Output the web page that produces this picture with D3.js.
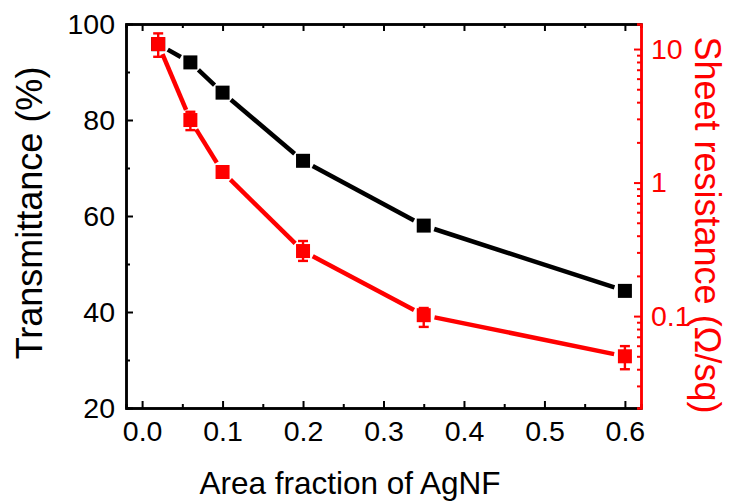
<!DOCTYPE html>
<html>
<head>
<meta charset="utf-8">
<script src="https://cdn.jsdelivr.net/npm/d3@7"></script>
<style>
  body { margin: 0; background: #fff; }
  text { font-family: Arial, "Liberation Sans", sans-serif; }
</style>
</head>
<body>
<svg id="chart"></svg>
<script>
// data
const fraction = [0.02, 0.06, 0.1, 0.2, 0.35, 0.6];
const transmittance = [95.8, 92.0, 85.7, 71.5, 58.0, 44.4];
const resistance = [10.9, 2.94, 1.2, 0.307, 0.1016, 0.050];
const resLow = [8.75, 2.47, 1.1, 0.259, 0.083, 0.040];
const resHigh = [13.1, 3.39, 1.31, 0.365, 0.115, 0.0596];
const xTicks = [0, 0.1, 0.2, 0.3, 0.4, 0.5, 0.6];
const yTicks = [20, 40, 60, 80, 100];
const rTicks = [0.1, 1, 10];

const width = 730, height = 503;
const plot = { left: 126, right: 641, top: 24, bottom: 408 };

const svg = d3.select("#chart").attr("width", width).attr("height", height);

const x = d3.scaleLinear().domain([-0.02, 0.62]).range([plot.left, plot.right]);
const y = d3.scaleLinear().domain([20, 100]).range([plot.bottom, plot.top]);
const yr = d3.scaleLog().domain([0.0205, 15.4]).range([plot.bottom, plot.top]);

// axes (ticks point inward)
const xMinor = [0.05, 0.15, 0.25, 0.35, 0.45, 0.55];
const yMinor = [30, 50, 70, 90];
const rMinor = [];
[0.01, 0.1, 1, 10].forEach((d) => {
  for (let k = 2; k <= 9; k++) {
    const v = d * k;
    if (v > 0.0205 && v < 15.4) rMinor.push(v);
  }
});

svg.append("g").attr("transform", `translate(0,${plot.bottom})`)
  .call(d3.axisBottom(x).tickValues(xTicks).tickFormat(d3.format(".1f"))
    .tickSizeInner(-7).tickSizeOuter(0).tickPadding(13));
svg.append("g").attr("transform", `translate(0,${plot.bottom})`)
  .call(d3.axisBottom(x).tickValues(xMinor).tickSize(-4).tickFormat(""));

svg.append("g").attr("transform", `translate(0,${plot.top})`)
  .call(d3.axisTop(x).tickValues(xTicks).tickSizeInner(-7).tickSizeOuter(0).tickFormat(""));
svg.append("g").attr("transform", `translate(0,${plot.top})`)
  .call(d3.axisTop(x).tickValues(xMinor).tickSize(-4).tickFormat(""));

svg.append("g").attr("transform", `translate(${plot.left},0)`)
  .call(d3.axisLeft(y).tickValues(yTicks).tickSizeInner(-7).tickSizeOuter(0).tickPadding(11));
svg.append("g").attr("transform", `translate(${plot.left},0)`)
  .call(d3.axisLeft(y).tickValues(yMinor).tickSize(-4).tickFormat(""));

const g_r = svg.append("g").attr("class", "raxis").attr("transform", `translate(${plot.right},0)`)
  .call(d3.axisRight(yr).tickValues(rTicks).tickFormat(d3.format("~g"))
    .tickSizeInner(-7).tickSizeOuter(0).tickPadding(10));
svg.append("g").attr("class", "raxis").attr("transform", `translate(${plot.right},0)`)
  .call(d3.axisRight(yr).tickValues(rMinor).tickSize(-4).tickFormat(""));

svg.selectAll(".domain").attr("stroke-width", 2.5);
svg.selectAll(".tick line").attr("stroke-width", 2);
svg.selectAll(".tick text").attr("font-size", 28.5).attr("fill", "#000");
svg.selectAll(".raxis .domain, .raxis .tick line").attr("stroke", "#f00");
g_r.selectAll(".tick text").attr("fill", "#f00");

// lines with small gaps around markers
const gap = 11;
function drawSeries(vals, ys, color) {
  const pts = fraction.map((f, i) => [x(f), ys(vals[i])]);
  const segs = d3.pairs(pts).map(([a, b]) => {
    const dx = b[0] - a[0], dy = b[1] - a[1];
    const len = Math.hypot(dx, dy);
    const ux = dx / len, uy = dy / len;
    return [a[0] + ux * gap, a[1] + uy * gap, b[0] - ux * gap, b[1] - uy * gap];
  });
  svg.append("g").selectAll("line").data(segs).join("line")
    .attr("x1", (d) => d[0]).attr("y1", (d) => d[1])
    .attr("x2", (d) => d[2]).attr("y2", (d) => d[3])
    .attr("stroke", color).attr("stroke-width", 4.5);
  return pts;
}

const blackPts = drawSeries(transmittance, y, "#000");
svg.append("g").selectAll("rect").data(blackPts).join("rect")
  .attr("x", (d) => d[0] - 7).attr("y", (d) => d[1] - 7)
  .attr("width", 14).attr("height", 14).attr("fill", "#000");

const redPts = drawSeries(resistance, yr, "#f00");
const eb = svg.append("g").attr("stroke", "#f00").attr("stroke-width", 2.4);
fraction.forEach((f, i) => {
  const cx = x(f);
  eb.append("line").attr("x1", cx).attr("x2", cx).attr("y1", yr(resLow[i])).attr("y2", yr(resHigh[i]));
  eb.append("line").attr("x1", cx - 5).attr("x2", cx + 5).attr("y1", yr(resLow[i])).attr("y2", yr(resLow[i]));
  eb.append("line").attr("x1", cx - 5).attr("x2", cx + 5).attr("y1", yr(resHigh[i])).attr("y2", yr(resHigh[i]));
});
svg.append("g").selectAll("rect").data(redPts).join("rect")
  .attr("x", (d) => d[0] - 7).attr("y", (d) => d[1] - 7)
  .attr("width", 14).attr("height", 14).attr("fill", "#f00");

// axis titles
svg.append("text").attr("x", 350).attr("y", 494).attr("text-anchor", "middle")
  .attr("font-size", 31.5).text("Area fraction of AgNF");
svg.append("text").attr("transform", "translate(42,213) rotate(-90)")
  .attr("text-anchor", "middle").attr("font-size", 36).text("Transmittance (%)");
svg.append("text").attr("transform", "translate(695,225) rotate(90)")
  .attr("text-anchor", "middle").attr("font-size", 36).attr("fill", "#f00")
  .text("Sheet resistance (\u03A9/sq)");
</script>
</body>
</html>
